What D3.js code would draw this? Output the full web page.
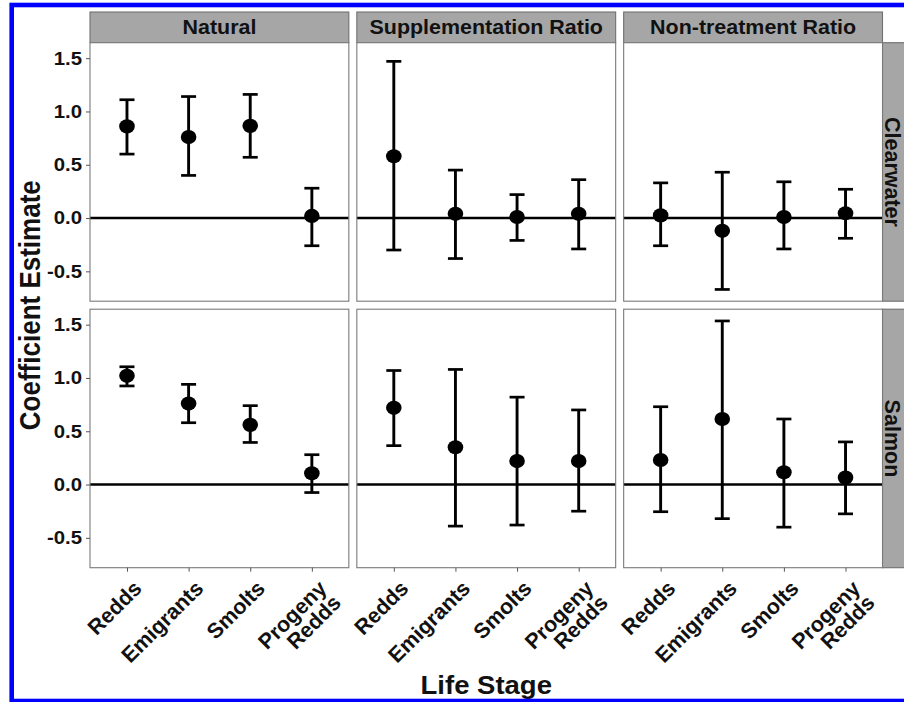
<!DOCTYPE html>
<html>
<head>
<meta charset="utf-8">
<script src="https://cdn.jsdelivr.net/npm/d3@7/dist/d3.min.js"></script>
<style>
  html, body { margin: 0; padding: 0; background: #fff; }
  svg { display: block; }
  text { font-family: "Liberation Sans", Arial, Helvetica, sans-serif; font-weight: bold; fill: #111; }
</style>
</head>
<body>
<svg id="chart" width="904" height="702"></svg>
<script>
// Facet levels and axis ticks
const lifeStages = ["Redds", "Emigrants", "Smolts", "Progeny Redds"];
const treatments = ["Natural", "Supplementation Ratio", "Non-treatment Ratio"];
const rivers = ["Clearwater", "Salmon"];
const yTicks = [-0.5, 0.0, 0.5, 1.0, 1.5];

// Coefficient estimates with interval bounds; rows follow treatments, columns follow lifeStages
const clearwaterEst = [
  [0.86, 0.76, 0.865, 0.02],
  [0.58, 0.04, 0.01, 0.04],
  [0.025, -0.12, 0.01, 0.045]
];
const clearwaterLow = [
  [0.60, 0.40, 0.57, -0.26],
  [-0.30, -0.38, -0.21, -0.29],
  [-0.26, -0.67, -0.29, -0.19]
];
const clearwaterHigh = [
  [1.11, 1.14, 1.16, 0.28],
  [1.47, 0.45, 0.22, 0.36],
  [0.33, 0.43, 0.34, 0.27]
];
const salmonEst = [
  [1.02, 0.76, 0.56, 0.105],
  [0.72, 0.35, 0.22, 0.22],
  [0.23, 0.615, 0.115, 0.065]
];
const salmonLow = [
  [0.925, 0.58, 0.395, -0.075],
  [0.365, -0.39, -0.38, -0.25],
  [-0.255, -0.32, -0.40, -0.275]
];
const salmonHigh = [
  [1.105, 0.94, 0.74, 0.28],
  [1.07, 1.08, 0.82, 0.70],
  [0.73, 1.535, 0.615, 0.40]
];

const estByRiver = [clearwaterEst, salmonEst];
const lowByRiver = [clearwaterLow, salmonLow];
const highByRiver = [clearwaterHigh, salmonHigh];

// Layout
const SX = 1.1;               // horizontal glyph stretch
const plotLeft = 90, plotRight = 882.5;
const stripTop = 12, panelTop = 42.7, panelBottom = 567.7;
const colGap = 8, rowGap = 8;
const panelW = (plotRight - plotLeft - 2 * colGap) / 3;
const panelH = (panelBottom - panelTop - rowGap) / 2;
const sideStripW = 34;

const svg = d3.select("#chart");

// Shared scales (fixed across facets)
const allLow = d3.min(lowByRiver.flat(2));
const allHigh = d3.max(highByRiver.flat(2));
const pad = (allHigh - allLow) * 0.05;
const y = d3.scaleLinear().domain([allLow - pad, allHigh + pad]).range([panelH, 0]);
const x = d3.scalePoint().domain(lifeStages).range([0, panelW]).padding(0.6);

const colX = i => plotLeft + i * (panelW + colGap);
const rowY = j => panelTop + j * (panelH + rowGap);

// Column strips
treatments.forEach((t, i) => {
  const g = svg.append("g").attr("transform", `translate(${colX(i)},${stripTop})`);
  g.append("rect")
    .attr("width", panelW).attr("height", panelTop - stripTop)
    .attr("fill", "#a6a6a6").attr("stroke", "#707070").attr("stroke-width", 1.1);
  g.append("text")
    .attr("transform", `translate(${panelW / 2},${(panelTop - stripTop) / 2 + 7}) scale(${SX},1)`)
    .attr("text-anchor", "middle").style("font-size", "19.5px")
    .text(t);
});

// Row strips
rivers.forEach((r, j) => {
  const g = svg.append("g").attr("transform", `translate(${plotRight},${rowY(j)})`);
  g.append("rect")
    .attr("width", sideStripW).attr("height", panelH)
    .attr("fill", "#a6a6a6").attr("stroke", "#707070").attr("stroke-width", 1.1);
  g.append("text")
    .attr("transform", `translate(2.5,${panelH / 2}) rotate(90)`)
    .attr("text-anchor", "middle").style("font-size", "21.5px")
    .text(r);
});

// Panels
rivers.forEach((r, j) => {
  treatments.forEach((t, i) => {
    const g = svg.append("g").attr("transform", `translate(${colX(i)},${rowY(j)})`);
    const est = estByRiver[j][i], lo = lowByRiver[j][i], hi = highByRiver[j][i];
    const rows = lifeStages.map((s, k) => ({ stage: s, est: est[k], lo: lo[k], hi: hi[k] }));

    g.append("rect")
      .attr("width", panelW).attr("height", panelH)
      .attr("fill", "#fff");

    // reference line at zero
    g.append("line")
      .attr("x1", 0).attr("x2", panelW)
      .attr("y1", y(0)).attr("y2", y(0))
      .attr("stroke", "#000").attr("stroke-width", 2.6);

    // error bars
    const capHalf = 7.5;
    const bars = g.selectAll("g.bar").data(rows).join("g").attr("class", "bar");
    bars.append("line")
      .attr("x1", d => x(d.stage)).attr("x2", d => x(d.stage))
      .attr("y1", d => y(d.lo)).attr("y2", d => y(d.hi))
      .attr("stroke", "#000").attr("stroke-width", 2.9);
    bars.append("line")
      .attr("x1", d => x(d.stage) - capHalf).attr("x2", d => x(d.stage) + capHalf)
      .attr("y1", d => y(d.hi)).attr("y2", d => y(d.hi))
      .attr("stroke", "#000").attr("stroke-width", 2.7);
    bars.append("line")
      .attr("x1", d => x(d.stage) - capHalf).attr("x2", d => x(d.stage) + capHalf)
      .attr("y1", d => y(d.lo)).attr("y2", d => y(d.lo))
      .attr("stroke", "#000").attr("stroke-width", 2.7);

    // point estimates
    g.selectAll("ellipse").data(rows).join("ellipse")
      .attr("cx", d => x(d.stage)).attr("cy", d => y(d.est))
      .attr("rx", 7.8).attr("ry", 7.1)
      .attr("fill", "#000");

    // panel border
    g.append("rect")
      .attr("width", panelW).attr("height", panelH)
      .attr("fill", "none").attr("stroke", "#7a7a7a").attr("stroke-width", 1.1);

    // y axis on the first column
    if (i === 0) {
      const ax = g.append("g").call(
        d3.axisLeft(y).tickValues(yTicks).tickSize(4).tickPadding(3.3)
          .tickFormat(d => d.toFixed(1))
      );
      ax.select(".domain").remove();
      ax.selectAll(".tick line").attr("stroke", "#555");
      ax.selectAll(".tick text")
        .attr("transform", `scale(${SX},1)`)
        .style("font-size", "18.5px").style("font-family", null)
        .attr("fill", "#111");
    }

    // x axis on the bottom row
    if (j === rivers.length - 1) {
      const ax = g.append("g").attr("transform", `translate(0,${panelH})`)
        .call(d3.axisBottom(x).tickSize(4).tickFormat(""));
      ax.select(".domain").remove();
      ax.selectAll(".tick line").attr("stroke", "#555");
      ax.selectAll(".tick").append("text")
        .attr("transform", `translate(15.5,22) rotate(-45)`)
        .attr("text-anchor", "end")
        .attr("fill", "#111")
        .style("font-size", "21.5px").style("font-family", null)
        .each(function (d) {
          const words = d.split(" ");
          const t = d3.select(this);
          words.forEach((w, k) => {
            t.append("tspan").attr("x", 0).attr("dy", k === 0 ? 0 : "0.95em").text(w);
          });
        });
    }
  });
});

// Axis titles
svg.append("text")
  .attr("transform", `translate(40,${(panelTop + panelBottom) / 2}) scale(${SX},1) rotate(-90)`)
  .attr("text-anchor", "middle").style("font-size", "26px")
  .text("Coefficient Estimate");

svg.append("text")
  .attr("transform", `translate(${(plotLeft + plotRight) / 2},694) scale(${SX},1)`)
  .attr("text-anchor", "middle").style("font-size", "25px")
  .text("Life Stage");

// Blue frame
svg.append("rect")
  .attr("x", 11.7).attr("y", 5).attr("width", 1000).attr("height", 696)
  .attr("fill", "none").attr("stroke", "#0000ff").attr("stroke-width", 4.6);
</script>
</body>
</html>
